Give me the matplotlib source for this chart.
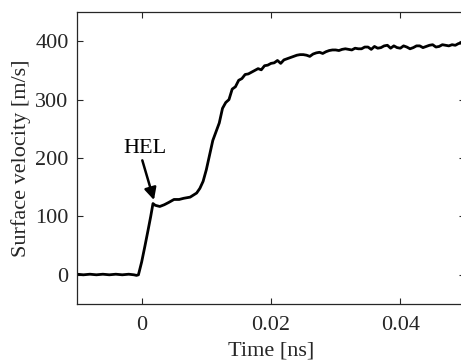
import matplotlib
matplotlib.use("Agg")
import matplotlib.pyplot as plt

time_ns = [-0.0100, -0.0090, -0.0080, -0.0070, -0.0060, -0.0050, -0.0040, -0.0030,
           -0.0020, -0.0012, -0.0008, -0.0005, 0.0000, 0.0005, 0.0010, 0.0014,
           0.00175, 0.0021, 0.0028, 0.0035, 0.0042, 0.0050, 0.0058, 0.0065,
           0.0075, 0.0085, 0.0090, 0.0095, 0.0100, 0.0105, 0.0110, 0.0115,
           0.0120, 0.0125, 0.0130, 0.0135, 0.0140, 0.0145, 0.0150, 0.0155,
           0.0160, 0.0165, 0.0170, 0.0175, 0.0180, 0.0185, 0.0190, 0.0195,
           0.0200, 0.0205, 0.0210, 0.0215, 0.0220, 0.0225, 0.0230, 0.0235,
           0.0240, 0.0245, 0.0250, 0.0255, 0.0260, 0.0265, 0.0270, 0.0275,
           0.0280, 0.0285, 0.0290, 0.0295, 0.0300, 0.0305, 0.0310, 0.0315,
           0.0320, 0.0325, 0.0330, 0.0335, 0.0340, 0.0345, 0.0350, 0.0355,
           0.0360, 0.0365, 0.0370, 0.0375, 0.0380, 0.0385, 0.0390, 0.0395,
           0.0400, 0.0405, 0.0410, 0.0415, 0.0420, 0.0425, 0.0430, 0.0435,
           0.0440, 0.0445, 0.0450, 0.0455, 0.0460, 0.0465, 0.0470, 0.0475,
           0.0480, 0.0485, 0.0490, 0.0495, 0.0500]
velocity = [1, 0, 1, 0, 1, 0, 1, 0,
            1, 0, -1, 0, 22, 49, 77, 100,
            122, 119, 117, 120, 124, 129, 129, 131,
            133, 140, 148, 160, 180, 205, 230, 245,
            260, 285, 295, 300, 318, 322, 333, 336,
            343, 344, 347, 350, 353, 351, 358, 359,
            362, 363, 367, 362, 368, 370, 372, 374,
            376, 377, 377, 376, 374, 378, 380, 381,
            379, 382, 384, 385, 385, 384, 386, 387,
            386, 385, 388, 387, 387, 390, 390, 386,
            391, 388, 389, 392, 393, 388, 392, 389,
            388, 392, 390, 387, 389, 392, 392, 389,
            391, 393, 394, 390, 391, 394, 393, 392,
            394, 393, 396, 397, 398]

x_ticks = [0, 0.02, 0.04]
x_tick_labels = ["0", "0.02", "0.04"]
y_ticks = [0, 100, 200, 300, 400]
y_tick_labels = ["0", "100", "200", "300", "400"]

plt.rcParams['font.family'] = ['Liberation Serif', 'DejaVu Serif']
text_color = '#262626'
fs = 16

fig = plt.figure(figsize=(4.61, 3.60), dpi=100)
ax = fig.add_axes([77/461, (360-304)/360, (465-77)/461, (304-12)/360])

ax.plot(time_ns, velocity, color='black', linewidth=2.0)

ax.set_xlim(-0.01, 0.05)
ax.set_ylim(-50, 450)
ax.set_xticks(x_ticks)
ax.set_xticklabels(x_tick_labels)
ax.set_yticks(y_ticks)
ax.set_yticklabels(y_tick_labels)
ax.tick_params(direction='in', length=4, width=0.8, top=True, right=True,
               labelsize=fs, colors=text_color)
ax.tick_params(axis='x', pad=9)
ax.tick_params(axis='y', pad=6)
for s in ax.spines.values():
    s.set_linewidth(0.9)
    s.set_color(text_color)

ax.set_xlabel('Time [ns]', fontsize=fs, color=text_color, labelpad=4)
ax.set_ylabel('Surface velocity [m/s]', fontsize=fs, color=text_color, labelpad=3)

ax.text(0.00045, 216, 'HEL', fontsize=fs, color='black', ha='center', va='center')
ax.annotate('', xy=(0.0019, 128), xytext=(0.0001, 196),
            arrowprops=dict(arrowstyle='-|>', color='black', lw=1.8,
                            mutation_scale=18, shrinkA=0, shrinkB=0))

fig.savefig('out.png', dpi=100)
